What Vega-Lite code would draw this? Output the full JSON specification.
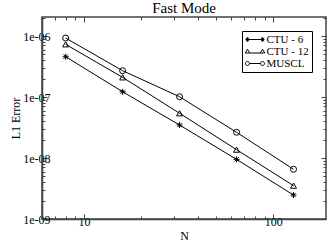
{
  "$schema": "https://vega.github.io/schema/vega-lite/v6.json",
  "width": 284,
  "height": 202,
  "autosize": "none",
  "padding": {"left": 42, "top": 17, "right": 5, "bottom": 23},
  "background": "white",
  "title": {"text": "Fast Mode", "font": "Liberation Serif", "fontSize": 15, "fontWeight": "normal", "color": "black", "offset": -4},
  "config": {
    "view": {"stroke": "#444", "strokeWidth": 1.5},
    "axis": {"grid": false, "domainColor": "#444", "domainWidth": 1.5, "tickColor": "#444", "labelFont": "Liberation Serif", "labelFontSize": 12, "labelColor": "black", "titleFont": "Liberation Serif", "titleFontSize": 12, "titleFontWeight": "normal", "titleColor": "black"}
  },
  "data": {"values": [
    {"N": 8, "err": 4.58e-7, "s": "CTU - 6"},
    {"N": 16, "err": 1.22e-7, "s": "CTU - 6"},
    {"N": 32, "err": 3.47e-8, "s": "CTU - 6"},
    {"N": 64, "err": 9.5e-9, "s": "CTU - 6"},
    {"N": 128, "err": 2.47e-9, "s": "CTU - 6"},
    {"N": 8, "err": 7.31e-7, "s": "CTU - 12"},
    {"N": 16, "err": 2.10e-7, "s": "CTU - 12"},
    {"N": 32, "err": 5.41e-8, "s": "CTU - 12"},
    {"N": 64, "err": 1.37e-8, "s": "CTU - 12"},
    {"N": 128, "err": 3.52e-9, "s": "CTU - 12"},
    {"N": 8, "err": 9.27e-7, "s": "MUSCL"},
    {"N": 16, "err": 2.70e-7, "s": "MUSCL"},
    {"N": 32, "err": 1.01e-7, "s": "MUSCL"},
    {"N": 64, "err": 2.64e-8, "s": "MUSCL"},
    {"N": 128, "err": 6.53e-9, "s": "MUSCL"}
  ]},
  "resolve": {"axis": {"x": "independent", "y": "independent"}, "scale": {"shape": "independent"}},
  "layer": [
    {
      "mark": {"type": "line", "color": "black", "strokeWidth": 1},
      "encoding": {
        "x": {"field": "N", "type": "quantitative", "scale": {"type": "log", "domain": [6, 190], "nice": false}, "title": "N",
          "axis": {"orient": "bottom", "values": [7,8,9,10,20,30,40,50,60,70,80,90,100],
            "tickSize": {"condition": {"test": "datum.value == 10 || datum.value == 100", "value": -5}, "value": -3},
            "labelExpr": "datum.value == 10 || datum.value == 100 ? datum.label : ''",
            "labelPadding": 2, "titleY": 11, "titleBaseline": "top", "labelFlush": false, "labelOverlap": false}},
        "y": {"field": "err", "type": "quantitative", "scale": {"type": "log", "domain": [1e-9, 2.05e-6], "nice": false}, "title": "L1 Error",
          "axis": {"orient": "left", "values": [1e-9,2e-9,3e-9,4e-9,5e-9,6e-9,7e-9,8e-9,9e-9,1e-8,2e-8,3e-8,4e-8,5e-8,6e-8,7e-8,8e-8,9e-8,1e-7,2e-7,3e-7,4e-7,5e-7,6e-7,7e-7,8e-7,9e-7,1e-6,2e-6],
            "tickSize": {"condition": {"test": "abs(log(datum.value)/LN10 - round(log(datum.value)/LN10)) < 0.001", "value": -5}, "value": -3},
            "labelExpr": "abs(log(datum.value)/LN10 - round(log(datum.value)/LN10)) < 0.001 ? '1e-0' + (-round(log(datum.value)/LN10)) : ''",
            "labelPadding": -3, "titleX": -20, "labelFlush": false, "labelOverlap": false}},
        "detail": {"field": "s"}
      }
    },
    {
      "mark": {"type": "point", "filled": false, "color": "black", "strokeWidth": 1, "size": 36, "opacity": 1},
      "encoding": {
        "x": {"field": "N", "type": "quantitative",
          "axis": {"orient": "top", "values": [7,8,9,10,20,30,40,50,60,70,80,90,100], "labels": false, "title": null, "domain": false,
            "tickSize": {"condition": {"test": "datum.value == 10 || datum.value == 100", "value": -5}, "value": -3}}},
        "y": {"field": "err", "type": "quantitative",
          "axis": {"orient": "right", "values": [1e-9,2e-9,3e-9,4e-9,5e-9,6e-9,7e-9,8e-9,9e-9,1e-8,2e-8,3e-8,4e-8,5e-8,6e-8,7e-8,8e-8,9e-8,1e-7,2e-7,3e-7,4e-7,5e-7,6e-7,7e-7,8e-7,9e-7,1e-6,2e-6], "labels": false, "title": null, "domain": false,
            "tickSize": {"condition": {"test": "abs(log(datum.value)/LN10 - round(log(datum.value)/LN10)) < 0.001", "value": -5}, "value": -3}}},
        "shape": {"field": "s", "type": "nominal",
          "scale": {"domain": ["CTU - 6", "CTU - 12", "MUSCL"], "range": ["M-1,0H1M0,-1V1M-0.7,-0.7L0.7,0.7M-0.7,0.7L0.7,-0.7", "triangle-up", "circle"]},
          "legend": null
        }
      }
    },
    {
      "mark": {"type": "point", "filled": false, "color": "black", "strokeWidth": 1, "opacity": 0},
      "encoding": {
        "x": {"field": "N", "type": "quantitative", "axis": null},
        "y": {"field": "err", "type": "quantitative", "axis": null},
        "shape": {"field": "s", "type": "nominal",
          "scale": {"domain": ["CTU - 6", "CTU - 12", "MUSCL"], "range": [
            "M-1.9,0H1.9M-1.8,-0.35L-1.2,0.35M-1.8,0.35L-1.2,-0.35M-1.5,-0.45V0.45M1.2,-0.35L1.8,0.35M1.2,0.35L1.8,-0.35M1.5,-0.45V0.45",
            "M-1.05,0.3H1.05M-1.95,0.3L-1.5,-0.45L-1.05,0.3ZM1.05,0.3L1.5,-0.45L1.95,0.3Z",
            "M-1.1,0H1.1M-1.1,0A0.4,0.4 0 1,1 -1.9,0A0.4,0.4 0 1,1 -1.1,0M1.9,0A0.4,0.4 0 1,1 1.1,0A0.4,0.4 0 1,1 1.9,0"]},
          "legend": {"orient": "none", "legendX": 200, "legendY": 14, "title": null, "strokeColor": "black", "fillColor": "white", "padding": 3,
            "labelFont": "Liberation Serif", "labelFontSize": 11, "labelColor": "black", "labelOffset": 6, "rowPadding": 0,
            "symbolSize": 100, "symbolStrokeColor": "black", "symbolFillColor": "transparent", "symbolStrokeWidth": 1, "symbolOffset": 4.5, "symbolOpacity": 1}
        }
      }
    }
  ]
}
